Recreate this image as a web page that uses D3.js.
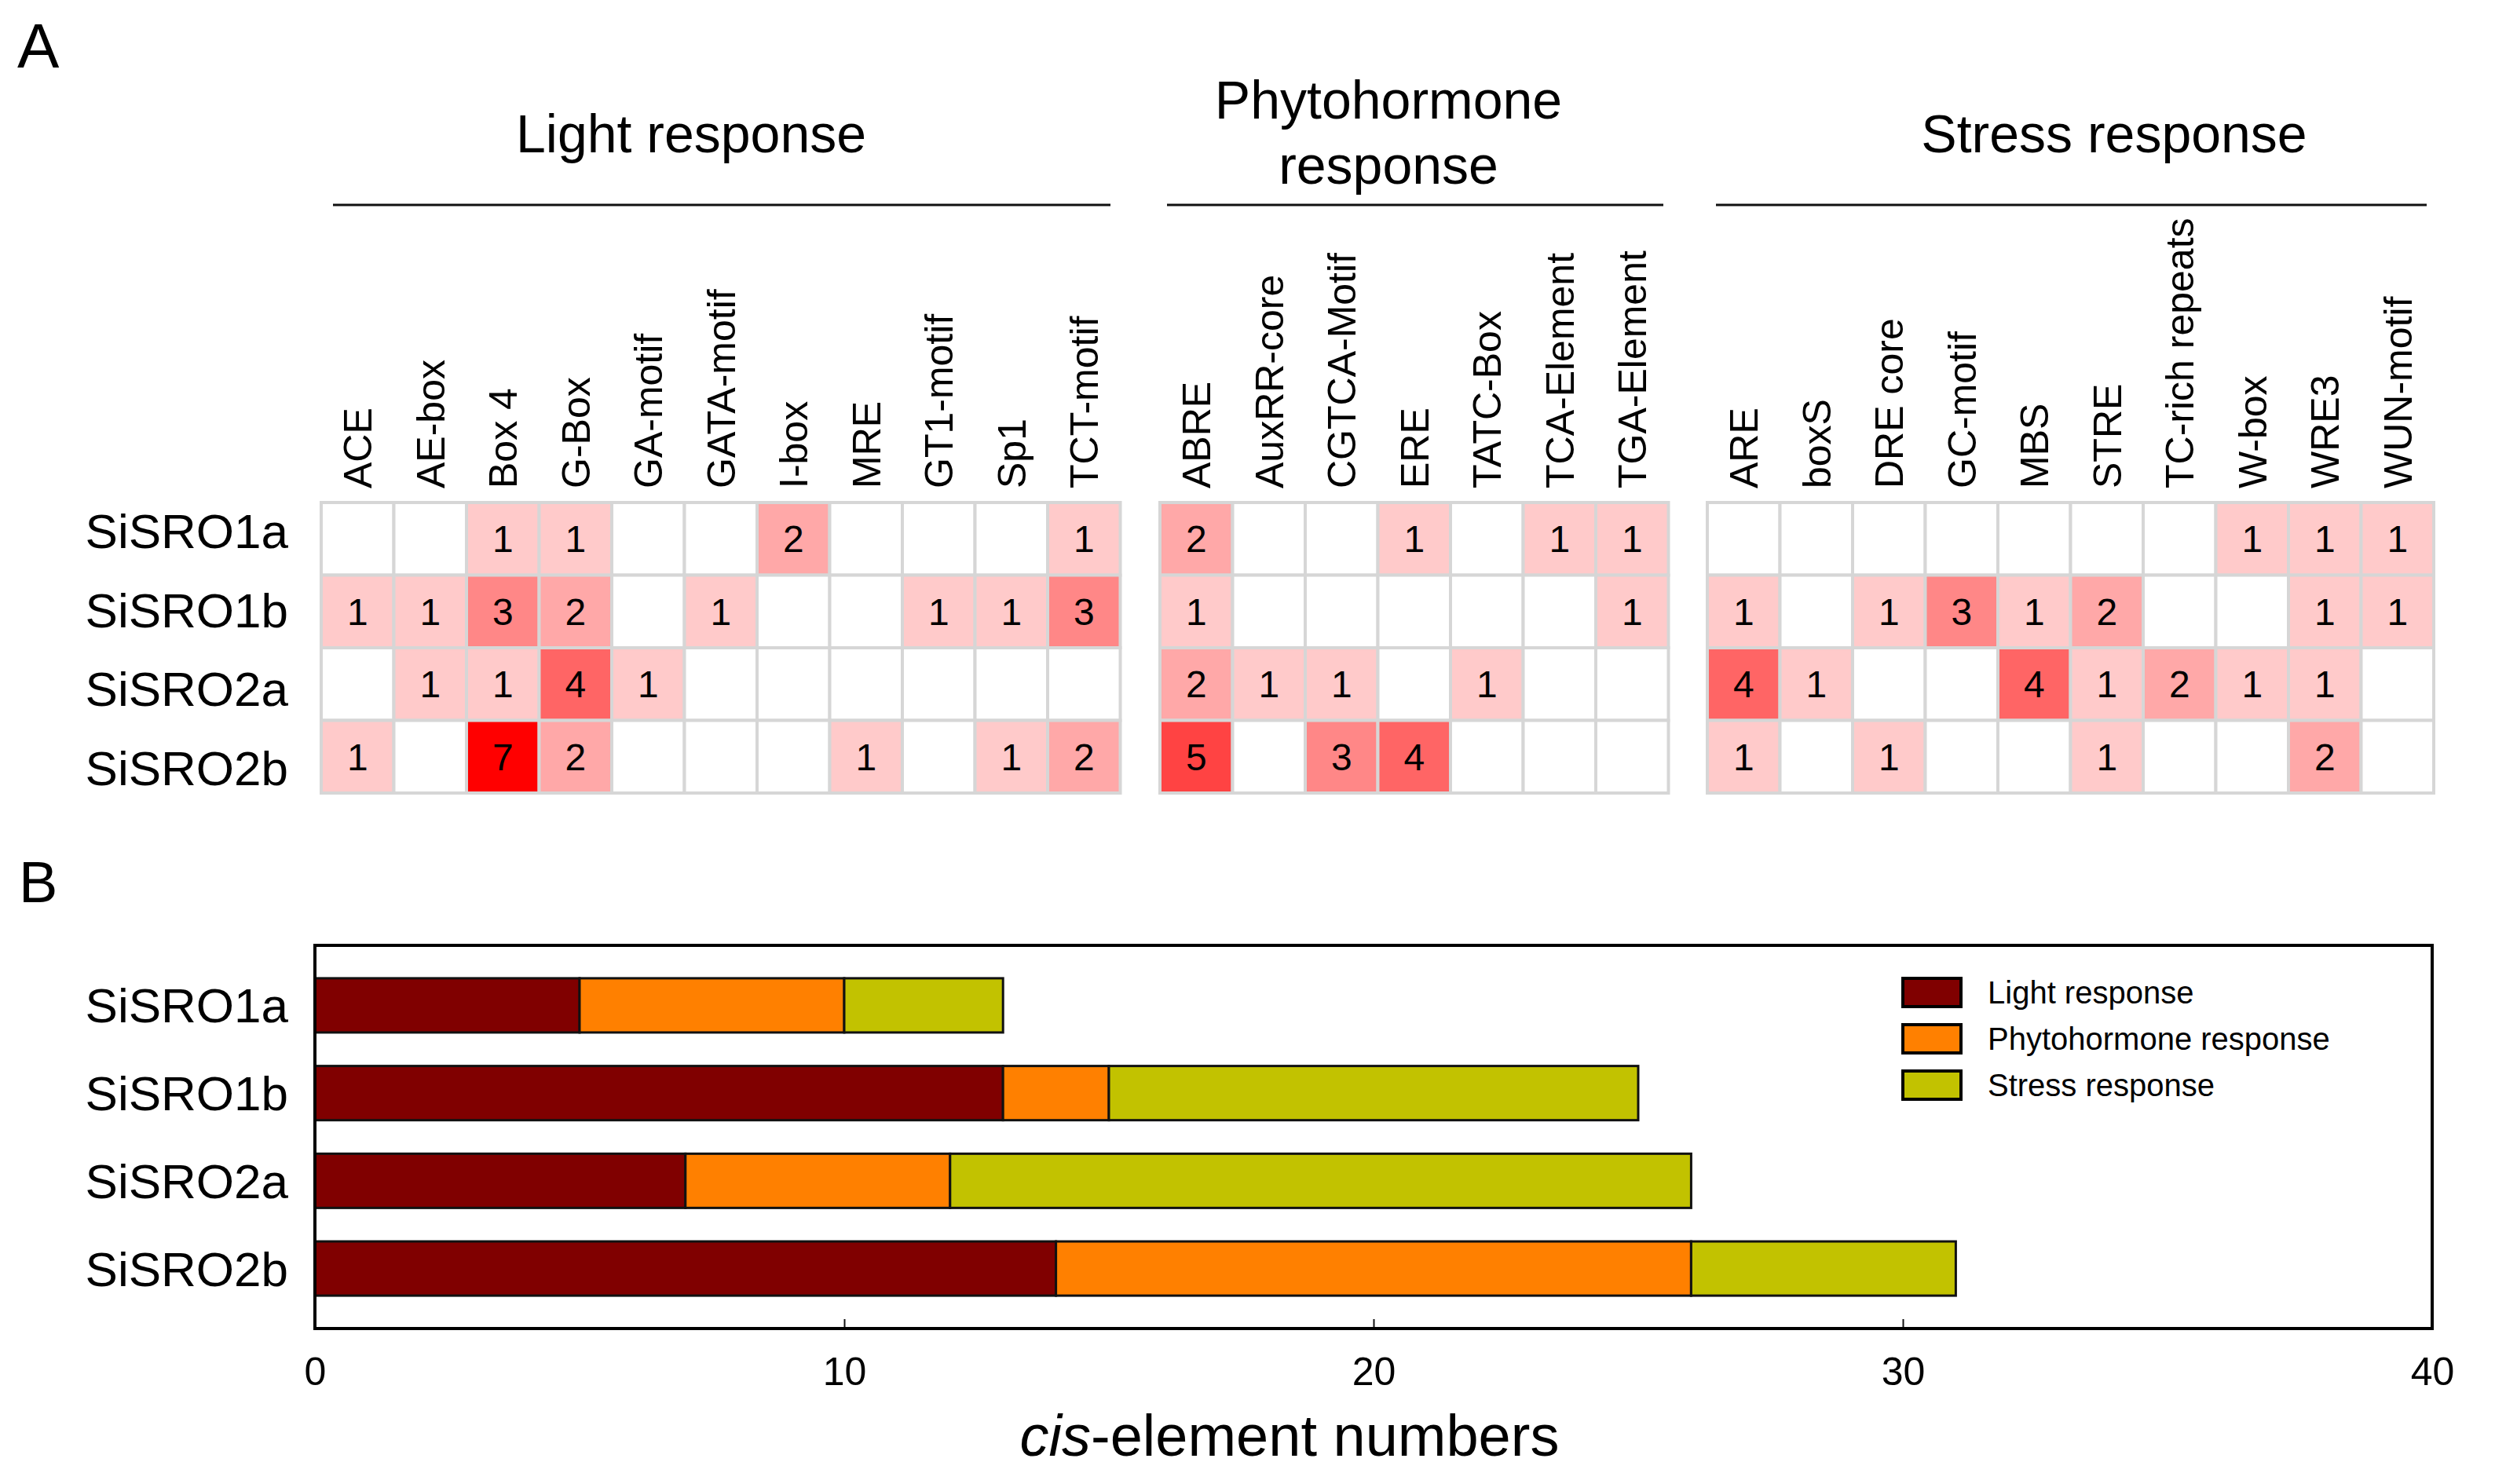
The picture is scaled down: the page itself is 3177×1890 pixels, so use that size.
<!DOCTYPE html>
<html>
<head>
<meta charset="utf-8">
<title>SiSRO cis-elements</title>
<script src="https://cdn.jsdelivr.net/npm/d3@7/dist/d3.min.js"></script>
<style>
  body { margin: 0; background: #fff; }
  text { font-family: "Liberation Sans", Arial, sans-serif; fill: #000; }
</style>
</head>
<body>
<svg id="chart" width="3177" height="1890"></svg>
<script>
// ---- data ----
var genes = ['SiSRO1a', 'SiSRO1b', 'SiSRO2a', 'SiSRO2b'];

var lightElems = ['ACE', 'AE-box', 'Box 4', 'G-Box', 'GA-motif', 'GATA-motif', 'I-box', 'MRE', 'GT1-motif', 'Sp1', 'TCT-motif'];
var hormoneElems = ['ABRE', 'AuxRR-core', 'CGTCA-Motif', 'ERE', 'TATC-Box', 'TCA-Element', 'TGA-Element'];
var stressElems = ['ARE', 'boxS', 'DRE core', 'GC-motif', 'MBS', 'STRE', 'TC-rich repeats', 'W-box', 'WRE3', 'WUN-motif'];

// counts per gene (rows follow genes), 0 = empty cell
var lightCounts = [
  [0, 0, 1, 1, 0, 0, 2, 0, 0, 0, 1],
  [1, 1, 3, 2, 0, 1, 0, 0, 1, 1, 3],
  [0, 1, 1, 4, 1, 0, 0, 0, 0, 0, 0],
  [1, 0, 7, 2, 0, 0, 0, 1, 0, 1, 2]
];
var hormoneCounts = [
  [2, 0, 0, 1, 0, 1, 1],
  [1, 0, 0, 0, 0, 0, 1],
  [2, 1, 1, 0, 1, 0, 0],
  [5, 0, 3, 4, 0, 0, 0]
];
var stressCounts = [
  [0, 0, 0, 0, 0, 0, 0, 1, 1, 1],
  [1, 0, 1, 3, 1, 2, 0, 0, 1, 1],
  [4, 1, 0, 0, 4, 1, 2, 1, 1, 0],
  [1, 0, 1, 0, 0, 1, 0, 0, 2, 0]
];

// panel B totals
var categories = ['Light response', 'Phytohormone response', 'Stress response'];
var lightTotal = [5, 13, 7, 14];
var hormoneTotal = [5, 2, 5, 12];
var stressTotal = [3, 10, 14, 5];
var xTicks = [0, 10, 20, 30, 40];
var catColors = ['#800000', '#ff8000', '#c2c200'];

// ---- drawing ----
var svg = d3.select('#chart');
svg.append('rect').attr('width', 3177).attr('height', 1890).attr('fill', '#fff');

svg.append('text').attr('x', 22).attr('y', 86).style('font-size', '80px').text('A');
svg.append('text').attr('x', 24).attr('y', 1149).style('font-size', '74px').text('B');

var cell = 92.5;
var rowY = d3.scaleBand().domain(genes).range([640, 640 + cell * 4]);
var rowLabelY = d3.scalePoint().domain(genes).range([676, 978]);
var heat = d3.scaleLinear().domain([1, 7]).range(['#ffcaca', '#ff0000']);

var groups = [
  {elems: lightElems, counts: lightCounts, x0: 409, lineX: [424, 1414], title: ['Light response'], tx: 880, ty: [194]},
  {elems: hormoneElems, counts: hormoneCounts, x0: 1477, lineX: [1486, 2118], title: ['Phytohormone', 'response'], tx: 1768, ty: [151, 234]},
  {elems: stressElems, counts: stressCounts, x0: 2174, lineX: [2185, 3090], title: ['Stress response'], tx: 2692, ty: [194]}
];

groups.forEach(function(g){
  var x = d3.scaleBand().domain(g.elems).range([g.x0, g.x0 + cell * g.elems.length]);
  var gg = svg.append('g');

  var cells = [];
  g.counts.forEach(function(row, i){
    row.forEach(function(v, j){
      cells.push({gene: genes[i], elem: g.elems[j], v: v});
    });
  });

  gg.selectAll('rect.cell').data(cells).enter().append('rect')
    .attr('class', 'cell')
    .attr('x', function(d){ return x(d.elem); })
    .attr('y', function(d){ return rowY(d.gene); })
    .attr('width', x.bandwidth())
    .attr('height', rowY.bandwidth())
    .attr('fill', function(d){ return d.v > 0 ? heat(d.v) : '#fff'; })
    .attr('stroke', '#d6d6d6')
    .attr('stroke-width', 4);

  gg.selectAll('text.val').data(cells.filter(function(d){ return d.v > 0; })).enter().append('text')
    .attr('class', 'val')
    .attr('x', function(d){ return x(d.elem) + x.bandwidth() / 2; })
    .attr('y', function(d){ return rowY(d.gene) + rowY.bandwidth() / 2 + 17; })
    .attr('text-anchor', 'middle')
    .style('font-size', '48px')
    .text(function(d){ return d.v; });

  gg.selectAll('text.col').data(g.elems).enter().append('text')
    .attr('class', 'col')
    .attr('transform', function(d){
      return 'translate(' + (x(d) + x.bandwidth() / 2 + 18) + ',622) rotate(-90)';
    })
    .style('font-size', '50px')
    .text(function(d){ return d; });

  gg.append('line')
    .attr('x1', g.lineX[0]).attr('x2', g.lineX[1])
    .attr('y1', 261).attr('y2', 261)
    .attr('stroke', '#111').attr('stroke-width', 3);

  g.title.forEach(function(t, k){
    gg.append('text')
      .attr('x', g.tx).attr('y', g.ty[k])
      .attr('text-anchor', 'middle')
      .style('font-size', '68px')
      .text(t);
  });
});

svg.selectAll('text.rowA').data(genes).enter().append('text')
  .attr('class', 'rowA')
  .attr('x', 367)
  .attr('y', function(d){ return rowLabelY(d) + 22; })
  .attr('text-anchor', 'end')
  .style('font-size', '62px')
  .text(function(d){ return d; });

// ---- panel B ----
var x = d3.scaleLinear().domain([0, 40]).range([401, 3097]);
var y = d3.scaleBand().domain(genes).range([1204, 1692]).paddingInner(0.382).paddingOuter(0.375);

var stackData = genes.map(function(gname, i){
  return {gene: gname, 'Light response': lightTotal[i], 'Phytohormone response': hormoneTotal[i], 'Stress response': stressTotal[i]};
});
var series = d3.stack().keys(categories)(stackData);

var bars = svg.append('g');
series.forEach(function(s, k){
  bars.selectAll('rect.s' + k).data(s).enter().append('rect')
    .attr('class', 's' + k)
    .attr('x', function(d){ return x(d[0]); })
    .attr('y', function(d){ return y(d.data.gene); })
    .attr('width', function(d){ return x(d[1]) - x(d[0]); })
    .attr('height', y.bandwidth())
    .attr('fill', catColors[k])
    .attr('stroke', '#111')
    .attr('stroke-width', 3);
});

var xAxis = d3.axisBottom(x).tickValues(xTicks).tickSizeInner(-12).tickSizeOuter(0).tickPadding(36);
var ax = svg.append('g').attr('transform', 'translate(0,1692)').call(xAxis);
ax.select('.domain').remove();
ax.selectAll('line').attr('stroke', '#111').attr('stroke-width', 2);
ax.selectAll('text').style('font-size', '50px').style('font-family', '"Liberation Sans", Arial, sans-serif').attr('fill', '#000');

svg.append('rect')
  .attr('x', 401).attr('y', 1204)
  .attr('width', 3097 - 401).attr('height', 1692 - 1204)
  .attr('fill', 'none').attr('stroke', '#000').attr('stroke-width', 4);

svg.selectAll('text.rowB').data(genes).enter().append('text')
  .attr('class', 'rowB')
  .attr('x', 367)
  .attr('y', function(d){ return y(d) + y.bandwidth() / 2 + 22; })
  .attr('text-anchor', 'end')
  .style('font-size', '62px')
  .text(function(d){ return d; });

var title = svg.append('text')
  .attr('x', 1642).attr('y', 1854)
  .attr('text-anchor', 'middle')
  .style('font-size', '74px');
title.append('tspan').style('font-style', 'italic').text('cis');
title.append('tspan').text('-element numbers');

// legend
var legY = d3.scalePoint().domain(categories).range([1264, 1382]);
var leg = svg.append('g');
leg.selectAll('rect').data(categories).enter().append('rect')
  .attr('x', 2423)
  .attr('y', function(d){ return legY(d) - 18; })
  .attr('width', 74).attr('height', 36)
  .attr('fill', function(d, i){ return catColors[i]; })
  .attr('stroke', '#000').attr('stroke-width', 4);
leg.selectAll('text').data(categories).enter().append('text')
  .attr('x', 2531)
  .attr('y', function(d){ return legY(d) + 14; })
  .style('font-size', '40px')
  .text(function(d){ return d; });
</script>
</body>
</html>
